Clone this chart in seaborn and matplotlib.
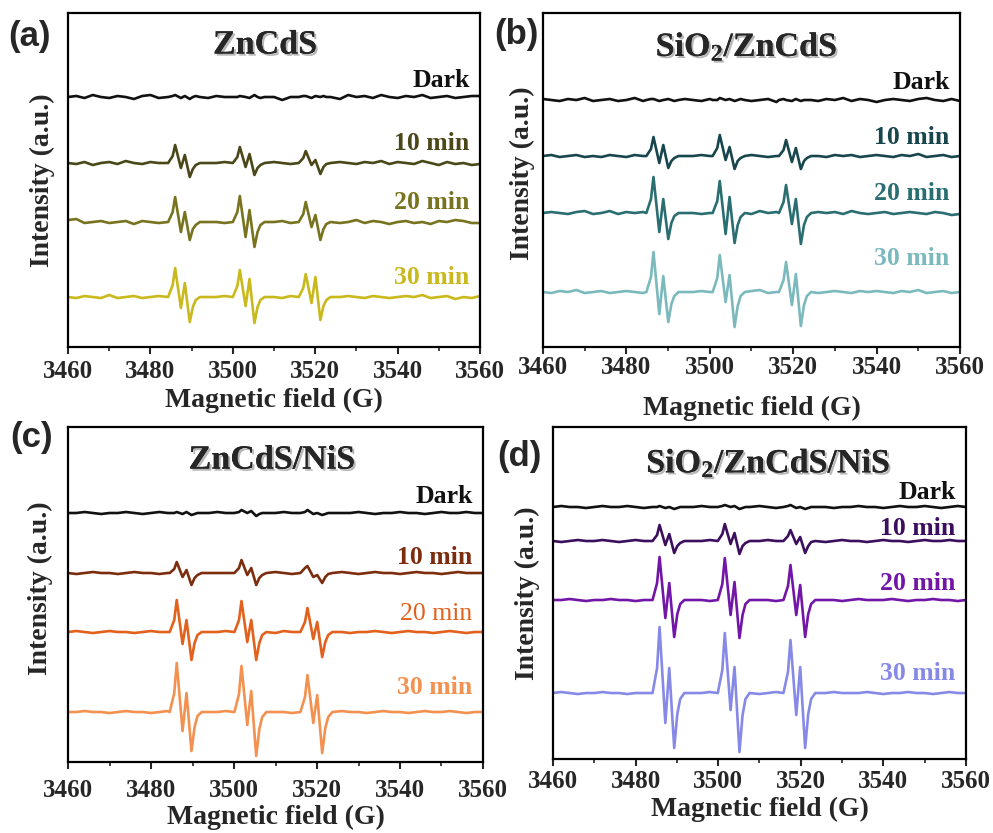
import numpy as np
import pandas as pd
import matplotlib.pyplot as plt
import matplotlib.patheffects as pe
from matplotlib.ticker import MultipleLocator
import seaborn as sns

sns.set_theme(style="ticks")
plt.rcParams['font.family'] = ['Liberation Serif', 'DejaVu Serif']
plt.rcParams['mathtext.fontset'] = 'custom'
plt.rcParams['mathtext.rm'] = 'Liberation Serif:bold'
plt.rcParams['mathtext.it'] = 'Liberation Serif:bold'
plt.rcParams['mathtext.bf'] = 'Liberation Serif:bold'

# ---- data (intensity in arbitrary units) ----
times = ['Dark', '10 min', '20 min', '30 min']

# baseline sampling of the field (G) and relative positions of the features
# inside one hyperfine group:
# start, pre, max1, min1, max2, min2, tail1, tail2, end
field_grid = np.arange(3460, 3561, 2)
line_offsets = [-1.7, -0.6, 0.0, 1.4, 2.35, 3.55, 4.3, 5.0, 6.0]

# (a) ZnCdS
centers_a = [3486.0, 3501.7, 3517.7]
offsets_a = [250, 184, 125, 50]
peaks_a = [
    [[1, 2, -1, 1, -2, 0, 1], [0, 1, 0, -1, 2, 0, -1], [1, 1, -1, 1, 0, 1, 0]],
    [[7, 18, -5, 8, -14, -6, -2], [6, 16, -4, 9, -12, -5, -2], [5, 12, -2, 3, -11, -4, -1]],
    [[10, 25, -10, 10, -18, -7, -3], [10, 26, -15, 12, -25, -10, -3], [8, 20, -5, 7, -18, -7, -2]],
    [[12, 29, -11, 14, -25, -10, -3], [11, 27, -9, 18, -26, -10, -3], [9, 23, -6, 20, -23, -9, -3]],
]
noise_a = [
    [0, 1, -1, 2, 0, -1, 1, 0, -2, 1, 2, -1, 0, 1, -1, 0, 2, -1, 1, 0,
     1, 0, -1, 2, 3, 0, -3, 0, -1, 1, -1, 0, 1, -2, 2, 0, 1, -1, 2, 0,
     -1, 1, 0, 2, -1, 0, 1, -1, 0, 1, 1],
    [0, -1, 1, -2, 0, 1, -1, 2, 0, -1, 1, 0, 2, -1, 1, 0, 0, 0, 0, 1,
     2, 0, 0, 0, -1, 1, 0, -1, 0, 0, 0, 0, -2, 1, 0, -1, 1, 0, 2, -1,
     1, 0, -1, 2, 0, -2, 1, -1, 0, -2, -1],
    [2, 3, -1, 0, 1, -1, 0, 1, -2, 1, 0, -1, 1, 0, 1, 0, 0, 0, 0, -1,
     1, 0, 0, 0, -1, 0, 1, -1, 1, 0, 0, 0, 1, -1, 0, 2, -1, 1, 0, -2,
     0, 1, -1, 0, -2, 1, 0, 2, 1, -1, -1],
    [0, -1, 1, 0, -1, 2, -1, 0, 1, -1, 0, 1, 0, -1, 1, 0, 0, 0, 0, 1,
     0, 0, 0, 0, 1, 0, -1, 1, 0, 0, 0, 0, -1, 0, 1, 0, -1, 1, 0, -1,
     0, 1, 0, 2, -1, 0, 1, -2, 0, -1, 1],
]

# (b) SiO2/ZnCdS
centers_b = [3486.5, 3502.4, 3518.3]
offsets_b = [247, 191, 134, 55]
peaks_b = [
    [[1, 1, -1, 0, 1, 0, -1], [0, 2, 0, 1, -1, 0, 1], [1, 0, -1, 1, -1, 0, 0]],
    [[7, 19, -7, 11, -12, -5, -2], [8, 21, -4, 9, -13, -5, -2], [6, 16, -6, 8, -13, -5, -2]],
    [[14, 36, -19, 14, -26, -10, -3], [12, 32, -21, 16, -30, -12, -4], [11, 28, -11, 14, -31, -12, -4]],
    [[15, 40, -22, 16, -30, -12, -4], [14, 37, -10, 17, -35, -14, -4], [12, 30, -13, 18, -34, -13, -4]],
]
noise_b = [
    [1, 0, -1, 1, 0, 2, -1, 0, 1, -1, 0, 2, -1, 0, 1, 0, -1, 1, 0, -1,
     1, 0, -2, 1, 2, -1, 0, 1, -2, 0, -1, 1, 0, -1, 1, 0, 2, -1, 1, 0,
     -2, 0, 1, 0, -1, 1, 2, 0, -1, 1, -1],
    [0, 1, -1, 0, 1, -1, 0, -1, 1, 0, -1, 1, 0, 1, 2, 0, 0, 0, 0, 1,
     0, 0, 0, 0, -1, 1, 0, -1, 0, 0, 0, 0, 1, 0, -1, 1, 0, 1, -1, 0,
     1, 0, -1, 1, 0, 2, -1, 0, 1, -1, 0],
    [0, 1, 0, -1, 1, 2, -1, 0, 2, -1, 1, 0, 1, -1, 0, 0, 0, 0, 0, -1,
     0, 0, 0, 0, 1, -1, 2, 0, 1, 0, 0, 0, -1, 1, 0, 1, -1, 2, 0, -1,
     0, 1, -1, 0, 1, 0, -1, 1, 0, -2, -1],
    [0, -1, 1, 0, 2, -1, 0, 1, -1, 0, 1, 0, -1, 1, 0, 0, 0, 0, 0, 1,
     0, 0, 0, 0, -1, 1, 2, -1, 0, 0, 0, 0, 1, -1, 0, 1, 0, -1, 1, 0,
     1, 0, -1, 1, 0, 2, -1, 0, 1, -1, 0],
]

# (c) ZnCdS/NiS
centers_c = [3486.2, 3501.8, 3517.7]
offsets_c = [249, 189, 130, 50]
peaks_c = [
    [[0, 1, -1, 1, -2, -1, 0], [1, 3, 0, 2, -3, -1, 0], [1, 3, -1, 0, -2, -1, 0]],
    [[4, 11, -4, 3, -12, -5, -2], [5, 13, -2, 5, -12, -5, -2], [5, 7, -4, -2, -10, -4, -1]],
    [[12, 32, -12, 12, -28, -11, -3], [12, 31, -10, 12, -28, -11, -3], [10, 24, -7, 10, -25, -10, -3]],
    [[19, 49, -19, 19, -39, -15, -4], [18, 46, -13, 21, -44, -17, -5], [15, 37, -11, 17, -41, -16, -5]],
]
noise_c = [
    [0, 0, 1, 0, -1, 0, 0, 1, 0, -1, 0, 1, 0, 0, -1, 0, 0, 0, 1, 0,
     0, 0, 0, 0, -1, 0, 1, 0, 0, 0, 0, 0, -1, 0, 0, 1, 0, -1, 0, 0,
     1, 0, 0, -1, 0, 1, 0, 0, 1, 0, 0],
    [0, -1, 0, 1, 0, 0, -1, 0, 1, 0, 0, -1, 0, 1, 0, 0, 0, 0, 0, 0,
     1, 0, 0, 0, 0, 1, 0, -1, 0, 0, 0, 0, 0, 1, 0, -1, 0, 1, 0, 0,
     -1, 0, 1, 0, 0, -1, 0, 1, 0, 0, 0],
    [0, 1, 0, -1, 0, 1, 0, 0, -1, 0, 1, 0, 0, -1, 0, 0, 0, 0, 0, 1,
     0, 0, 0, 0, 0, -1, 1, 0, 0, 0, 0, 0, 1, 0, -1, 0, 0, 1, 0, -1,
     0, 1, 0, 0, -1, 0, 1, 0, -1, 0, 0],
    [0, 0, 1, 0, 0, -1, 0, 1, 0, 0, -1, 0, 1, 0, 0, 0, 0, 0, 0, 1,
     0, 0, 0, 0, 1, 0, 0, -1, 1, 0, 0, 0, 0, 1, 0, 0, -1, 0, 1, 0,
     0, -1, 0, 1, 0, 0, 1, 0, -1, 0, 0],
]

# (d) SiO2/ZnCdS/NiS
centers_d = [3485.8, 3501.6, 3517.5]
offsets_d = [252, 218, 159, 66]
peaks_d = [
    [[0, 1, -1, 0, -2, -1, 0], [1, 2, 0, 1, -2, -1, 0], [1, 2, -1, 0, -2, -1, 0]],
    [[6, 16, -4, 7, -12, -5, -2], [7, 17, -3, 8, -13, -5, -2], [5, 11, -3, 4, -12, -5, -1]],
    [[17, 43, -18, 17, -37, -14, -4], [16, 42, -15, 18, -38, -15, -4], [14, 35, -15, 15, -37, -14, -4]],
    [[25, 66, -30, 25, -55, -21, -6], [23, 60, -17, 26, -59, -22, -6], [21, 53, -22, 26, -55, -21, -6]],
]
noise_d = [
    [0, 1, 0, 0, -1, 0, 1, 0, 0, 1, 0, -1, 0, 1, 0, 0, 0, 0, 1, 0,
     0, 0, 0, 0, 0, 1, 0, -1, 0, 0, 0, 0, 1, 0, -1, 0, 0, 1, 0, 0,
     -1, 0, 1, 0, 0, 1, 0, -1, 0, 1, 0],
    [0, -1, 0, 1, 0, 0, 1, 0, -1, 0, 1, 0, 0, -1, 0, 0, 0, 0, 0, 1,
     0, 0, 0, 0, -1, 0, 1, 0, 0, 0, 0, 0, 0, -1, 0, 1, 0, 0, -1, 0,
     1, 0, 0, -1, 0, 1, 0, 0, 1, 0, 0],
    [0, 0, 1, 0, -1, 0, 0, 1, 0, 0, -1, 0, 1, 0, 0, 0, 0, 0, 0, -1,
     0, 0, 0, 0, 1, 0, 0, -1, 0, 0, 0, 0, 1, 0, 0, -1, 0, 1, 0, 0,
     0, 1, 0, -1, 0, 0, 1, 0, 0, -1, 0],
    [0, 1, 0, -1, 0, 0, 1, 0, 0, -1, 0, 0, 1, 0, 0, 0, 0, 0, 0, 1,
     0, 0, 0, 0, 0, -1, 0, 1, 0, 0, 0, 0, -1, 0, 1, 0, 0, 0, 1, 0,
     -1, 0, 0, 1, 0, 0, -1, 0, 1, 0, 0],
]

colors_a = ['#111111', '#4a4718', '#77731f', '#c9b91c']
colors_b = ['#111111', '#17474d', '#2b6e72', '#7cb9bd']
colors_c = ['#111111', '#7b2d0e', '#e2611c', '#f39150']
colors_d = ['#111111', '#3b0f5e', '#7216a8', '#8789e6']


def build_trace(centers, peaks, noise, base):
    xs, ys = [], []
    for x, n in zip(field_grid, noise):
        if any(c - 2.2 < x < c + 6.6 for c in centers):
            continue
        xs.append(x)
        ys.append(base + n)
    for c, p in zip(centers, peaks):
        vals = [0] + list(p) + [0]
        for off, v in zip(line_offsets, vals):
            xs.append(c + off)
            ys.append(base + v)
    df = pd.DataFrame({'field': xs, 'intensity': ys})
    return df.sort_values('field')


# ---- layout ----
fig = plt.figure(figsize=(9.93, 8.33), dpi=100)

panels = [
    dict(rect=[0.0685, 0.5834, 0.4149, 0.4010], h=334, letter='(a)', lpos=(0.030, 0.956),
         title='ZnCdS', tpos=(0.478, 0.904), centers=centers_a, offsets=offsets_a,
         peaks=peaks_a, noise=noise_a, colors=colors_a, labely=[267, 204, 145, 70],
         weights=['bold'] * 4, pad=4.5, xl=-0.160, yl=(-0.063, 0.50)),
    dict(rect=[0.5468, 0.5834, 0.4199, 0.4010], h=334, letter='(b)', lpos=(0.520, 0.958),
         title='SiO$_2$/ZnCdS', tpos=(0.488, 0.899), centers=centers_b, offsets=offsets_b,
         peaks=peaks_b, noise=noise_b, colors=colors_b, labely=[265, 210, 154, 89],
         weights=['bold'] * 4, pad=1.5, xl=-0.185, yl=(-0.050, 0.52)),
    dict(rect=[0.0685, 0.0852, 0.4179, 0.4022], h=335, letter='(c)', lpos=(0.032, 0.475),
         title='ZnCdS/NiS', tpos=(0.491, 0.901), centers=centers_c, offsets=offsets_c,
         peaks=peaks_c, noise=noise_c, colors=colors_c, labely=[266, 205, 148, 75],
         weights=['bold', 'bold', 'normal', 'bold'], pad=7, xl=-0.166, yl=(-0.067, 0.52)),
    dict(rect=[0.5569, 0.0888, 0.4159, 0.3986], h=332, letter='(d)', lpos=(0.523, 0.452),
         title='SiO$_2$/ZnCdS/NiS', tpos=(0.521, 0.891), centers=centers_d, offsets=offsets_d,
         peaks=peaks_d, noise=noise_d, colors=colors_d, labely=[267, 231, 176, 86],
         weights=['bold'] * 4, pad=3, xl=-0.152, yl=(-0.061, 0.50)),
]

shadow = [pe.withSimplePatchShadow(offset=(1.5, -1.5), shadow_rgbFace='#888888', alpha=0.6),
          pe.Normal()]

for p in panels:
    ax = fig.add_axes(p['rect'])
    for i, t in enumerate(times):
        df = build_trace(p['centers'], p['peaks'][i], p['noise'][i], p['offsets'][i])
        sns.lineplot(data=df, x='field', y='intensity', ax=ax, color=p['colors'][i],
                     linewidth=1.9, estimator=None, sort=False, legend=False)
        ax.text(3557.5, p['labely'][i], t, ha='right', va='center', color=p['colors'][i],
                fontsize=18.5, fontweight=p['weights'][i])

    ax.set_xlim(3460, 3560)
    ax.set_ylim(0, p['h'])
    ax.set_xticks(range(3460, 3561, 20))
    ax.xaxis.set_minor_locator(MultipleLocator(10))
    ax.set_yticks([])
    ax.tick_params(axis='x', which='major', direction='out', length=5, width=1.5,
                   labelsize=18, pad=p['pad'])
    ax.tick_params(axis='x', which='minor', direction='out', length=3, width=1.2)
    for lab in ax.get_xticklabels():
        lab.set_fontweight('bold')
    for s in ax.spines.values():
        s.set_linewidth(1.6)
        s.set_color('black')

    ax.set_xlabel('Magnetic field (G)', fontsize=20, fontweight='bold')
    ax.xaxis.label.set_va('center')
    ax.xaxis.set_label_coords(0.5, p['xl'])
    ax.set_ylabel('Intensity (a.u.)', fontsize=20, fontweight='bold')
    ax.yaxis.label.set_va('center')
    ax.yaxis.set_label_coords(*p['yl'])

    ax.text(p['tpos'][0], p['tpos'][1], p['title'], transform=ax.transAxes,
            ha='center', va='center', fontsize=24.5, fontweight='bold', path_effects=shadow)
    fig.text(p['lpos'][0], p['lpos'][1], p['letter'], ha='center', va='center',
             fontsize=25, fontweight='bold', family=['Liberation Sans', 'DejaVu Sans'])

fig.savefig('out.png', dpi=100)
